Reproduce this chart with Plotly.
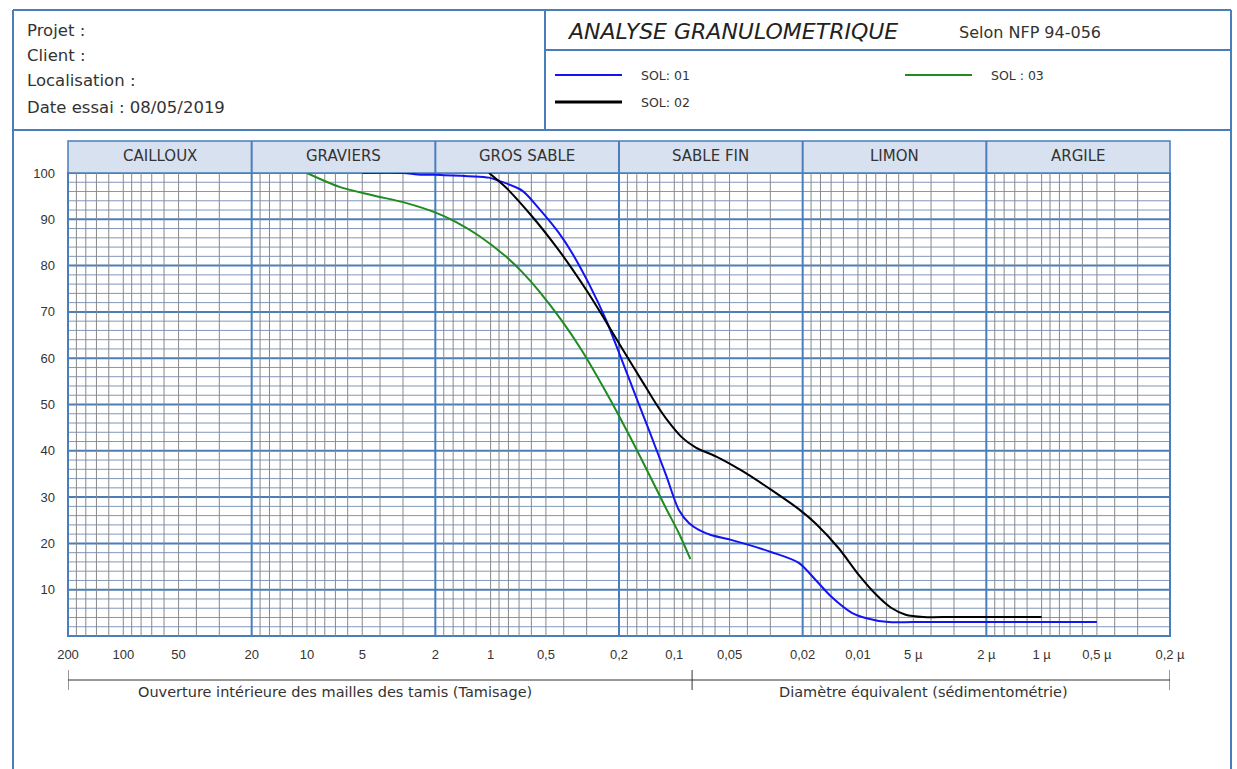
import math
import plotly.graph_objects as go

# ---------------- data ----------------
sol01_d = [5, 3, 2.5, 2, 1.02, 0.898, 0.673, 0.545, 0.424, 0.36, 0.291, 0.2355, 0.193, 0.156,
           0.1375, 0.111, 0.0944, 0.0833, 0.0735, 0.0632, 0.0486, 0.0295, 0.021, 0.017, 0.0139,
           0.0108, 0.0091, 0.0068, 0.005, 0.002, 0.0005]
sol01_p = [100, 100, 99.7, 99.6, 99.0, 98.3, 96.2, 92.3, 87.0, 82.7, 76.0, 68.3, 59.6, 50.1,
           44.5, 34.8, 27.2, 24.4, 22.9, 21.8, 20.7, 18.1, 15.8, 12.1, 8.4,
           5.0, 3.9, 3.0, 3.0, 3.0, 3.0]

sol02_d = [1.02, 0.822, 0.594, 0.44, 0.36, 0.291, 0.2355, 0.193, 0.15, 0.126, 0.111, 0.0909,
           0.0763, 0.0594, 0.0429, 0.0295, 0.021, 0.017, 0.0127, 0.0099, 0.008, 0.0066,
           0.0055, 0.0044, 0.003, 0.001]
sol02_p = [100, 96.8, 90.6, 84.1, 79.3, 73.8, 67.9, 62.2, 55.1, 50.2, 47.0, 42.9,
           40.7, 38.8, 35.7, 31.5, 27.4, 24.3, 18.9, 13.2, 9.0, 6.1,
           4.6, 4.1, 4.1, 4.1]

sol03_d = [10, 6.65, 4.4, 2.87, 1.976, 1.54, 1.153, 0.822, 0.673, 0.545, 0.408, 0.318, 0.2355,
           0.193, 0.162, 0.1375, 0.111, 0.0944, 0.0817]
sol03_p = [100, 97.0, 95.2, 93.5, 91.4, 89.4, 86.4, 81.9, 78.6, 74.5, 68.0, 61.6, 52.7,
           46.4, 40.6, 35.0, 27.6, 22.2, 16.6]

series_names = ["SOL: 01", "SOL: 02", "SOL : 03"]
series_colors = ["#1414f0", "#000000", "#1e8c1e"]

x_tick_vals = [200, 100, 50, 20, 10, 5, 2, 1, 0.5, 0.2, 0.1, 0.05, 0.02, 0.01,
               0.005, 0.002, 0.001, 0.0005, 0.0002]
x_tick_text = ["200", "100", "50", "20", "10", "5", "2", "1", "0,5", "0,2", "0,1", "0,05",
               "0,02", "0,01", "5 µ", "2 µ", "1 µ", "0,5 µ", "0,2 µ"]
y_tick_vals = [10, 20, 30, 40, 50, 60, 70, 80, 90, 100]

classes = ["CAILLOUX", "GRAVIERS", "GROS SABLE", "SABLE FIN", "LIMON", "ARGILE"]
class_bounds = [200, 20, 2, 0.2, 0.02, 0.002, 0.0002]
minor_mults = [3, 4, 5, 6, 7, 8, 9, 10, 12, 14, 16, 18]
sieve_limit = 0.08

header_lines = ["Projet :", "Client :", "Localisation :", "Date essai : 08/05/2019"]

# ---------------- layout geometry (pixels) ----------------
W, H = 1237, 769
PL, PR, PT, PB = 68, 1170, 173, 636

def xp(px):
    return (px - PL) / (PR - PL)

def yp(py):
    return (PB - py) / (PB - PT)

BLUE = "#4a7ebb"
MINOR_V = "#888888"
MINOR_H = "#8196bb"
TXT = "#333333"

fig = go.Figure()
for d, p, name, col in zip([sol01_d, sol02_d, sol03_d], [sol01_p, sol02_p, sol03_p],
                           series_names, series_colors):
    fig.add_trace(go.Scatter(x=d, y=p, mode="lines", name=name,
                             line=dict(color=col, width=2, shape="spline", smoothing=0.8),
                             showlegend=False, hoverinfo="x+y"))

shapes = []
# minor vertical grid
for k in range(-4, 2):
    for m in minor_mults:
        v = m * 10 ** k
        shapes.append(dict(type="line", xref="x", yref="y", x0=v, x1=v, y0=0, y1=100,
                           line=dict(color=MINOR_V, width=1), layer="below"))
# minor horizontal grid
for v in range(2, 100, 2):
    if v % 10:
        shapes.append(dict(type="line", xref="paper", yref="y", x0=0, x1=1, y0=v, y1=v,
                           line=dict(color=MINOR_H, width=1), layer="below"))
# major horizontal
for v in range(10, 100, 10):
    shapes.append(dict(type="line", xref="paper", yref="y", x0=0, x1=1, y0=v, y1=v,
                       line=dict(color=BLUE, width=2), layer="below"))
# major vertical
for v in class_bounds[1:-1]:
    shapes.append(dict(type="line", xref="x", yref="paper", x0=v, x1=v, y0=0, y1=yp(141),
                       line=dict(color=BLUE, width=2), layer="below"))
# plot border
shapes.append(dict(type="rect", xref="paper", yref="paper", x0=0, x1=1, y0=0, y1=1,
                   line=dict(color=BLUE, width=2), layer="below"))
# header band
shapes.append(dict(type="rect", xref="paper", yref="paper", x0=0, x1=1, y0=1, y1=yp(141),
                   fillcolor="#d8e1f0", line=dict(color=BLUE, width=1.5), layer="below"))
for v in class_bounds[1:-1]:
    shapes.append(dict(type="line", xref="x", yref="paper", x0=v, x1=v, y0=1, y1=yp(141),
                       line=dict(color=BLUE, width=2)))

# bracket under axis
by = yp(680)
shapes.append(dict(type="line", xref="x", yref="paper", x0=class_bounds[0], x1=class_bounds[-1],
                   y0=by, y1=by, line=dict(color=TXT, width=1)))
for v in [class_bounds[0], sieve_limit, class_bounds[-1]]:
    shapes.append(dict(type="line", xref="x", yref="paper", x0=v, x1=v, y0=yp(670), y1=yp(690),
                       line=dict(color=TXT, width=1)))

# outer frame / header boxes
FR = dict(color=BLUE, width=2)
shapes += [
    dict(type="line", xref="paper", yref="paper", x0=xp(13), x1=xp(1231), y0=yp(10), y1=yp(10), line=FR),
    dict(type="line", xref="paper", yref="paper", x0=xp(13), x1=xp(13), y0=yp(10), y1=yp(769), line=FR),
    dict(type="line", xref="paper", yref="paper", x0=xp(1231), x1=xp(1231), y0=yp(10), y1=yp(769), line=FR),
    dict(type="line", xref="paper", yref="paper", x0=xp(13), x1=xp(1231), y0=yp(130), y1=yp(130), line=FR),
    dict(type="line", xref="paper", yref="paper", x0=xp(545), x1=xp(545), y0=yp(10), y1=yp(130), line=FR),
    dict(type="line", xref="paper", yref="paper", x0=xp(545), x1=xp(1231), y0=yp(50), y1=yp(50), line=FR),
]
# legend samples
leg_pos = [(555, 622, 75, 2), (555, 622, 102, 3), (905, 972, 75, 2)]
for (x0, x1, yy, w), col in zip(leg_pos, series_colors):
    shapes.append(dict(type="line", xref="paper", yref="paper", x0=xp(x0), x1=xp(x1),
                       y0=yp(yy), y1=yp(yy), line=dict(color=col, width=w)))

annotations = []
HF = "DejaVu Sans"
for txt, yy in zip(header_lines, [30, 55, 81, 108]):
    annotations.append(dict(text=txt, xref="paper", yref="paper", x=xp(25), y=yp(yy),
                            xanchor="left", yanchor="middle", showarrow=False,
                            font=dict(family=HF, size=16.5, color=TXT)))
annotations.append(dict(text="<i>ANALYSE GRANULOMETRIQUE</i>", xref="paper", yref="paper",
                        x=xp(565), y=yp(31), xanchor="left", yanchor="middle", showarrow=False,
                        font=dict(family=HF, size=22, color="#222222")))
annotations.append(dict(text="Selon NFP 94-056", xref="paper", yref="paper",
                        x=xp(957), y=yp(32), xanchor="left", yanchor="middle", showarrow=False,
                        font=dict(family=HF, size=16, color=TXT)))
for name, (x0, x1, yy, w) in zip(series_names, leg_pos):
    annotations.append(dict(text=name, xref="paper", yref="paper", x=xp(x1 + 17), y=yp(yy),
                            xanchor="left", yanchor="middle", showarrow=False,
                            font=dict(family=HF, size=12.5, color=TXT)))
for name, a, b in zip(classes, class_bounds[:-1], class_bounds[1:]):
    annotations.append(dict(text=name, xref="x", yref="paper", x=math.log10(math.sqrt(a * b)),
                            y=yp(156), xanchor="center", yanchor="middle", showarrow=False,
                            font=dict(family=HF, size=15, color=TXT)))
annotations.append(dict(text="Ouverture intérieure des mailles des tamis (Tamisage)",
                        xref="paper", yref="paper", x=xp(335), y=yp(692), xanchor="center",
                        yanchor="middle", showarrow=False, font=dict(family=HF, size=14.5, color=TXT)))
annotations.append(dict(text="Diamètre équivalent (sédimentométrie)",
                        xref="paper", yref="paper", x=xp(923), y=yp(692), xanchor="center",
                        yanchor="middle", showarrow=False, font=dict(family=HF, size=14.5, color=TXT)))

fig.update_layout(
    width=W, height=H,
    margin=dict(l=PL, r=W - PR, t=PT, b=H - PB, pad=0),
    paper_bgcolor="white", plot_bgcolor="white",
    shapes=shapes, annotations=annotations,
    xaxis=dict(type="log", range=[math.log10(200), math.log10(0.0002)],
               tickvals=x_tick_vals, ticktext=x_tick_text, showgrid=False, zeroline=False,
               showline=False, ticks="", ticklabelstandoff=9,
               tickfont=dict(family="Liberation Sans", size=13, color=TXT)),
    yaxis=dict(range=[0, 100], tickvals=y_tick_vals, showgrid=False, zeroline=False,
               showline=False, ticks="", ticklabelstandoff=12,
               tickfont=dict(family="Liberation Sans", size=13, color=TXT)),
    showlegend=False,
)

fig.write_html("out.html")
